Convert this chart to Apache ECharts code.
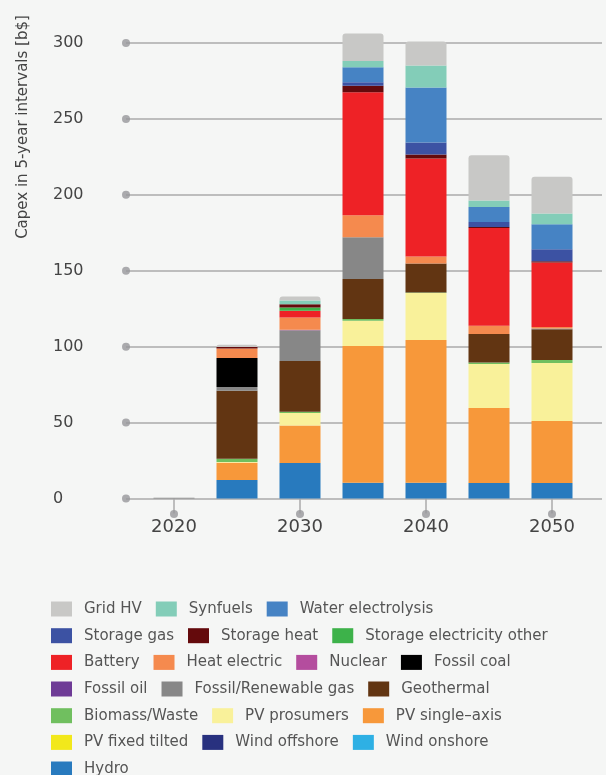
<!DOCTYPE html>
<html>
<head>
<meta charset="utf-8">
<script src="https://cdn.jsdelivr.net/npm/echarts@6/dist/echarts.min.js"></script>
<style>
html,body{margin:0;padding:0;background:#f5f6f5;}
#chart{width:606px;height:775px;}
</style>
</head>
<body>
<div id="chart"></div>
<script>
// Categories and ticks
const years = ['2020', '2025', '2030', '2035', '2040', '2045', '2050'];
const yTicks = [0, 50, 100, 150, 200, 250, 300];
const xTickYears = ['2020', '2030', '2040', '2050'];
const yAxisTitle = 'Capex in 5-year intervals [b$]';

// Series values (b$), stacked bottom -> top
const hydro             = [0,   12.2, 23.4, 10.4, 10.4, 10.2, 10.2];
const windOnshore       = [0,   0,    0,    0,    0,    0,    0];
const windOffshore      = [0,   0,    0,    0,    0,    0,    0];
const pvFixedTilted     = [0,   0,    0,    0,    0,    0,    0];
const pvSingleAxis      = [0,   11.4, 24.6, 90,   94,   49.4, 40.8];
const pvProsumers       = [0,   0.5,  8.3,  16.7, 31,   29,   38.2];
const biomassWaste      = [0,   2,    0.9,  1.1,  0.3,  0.9,  2];
const geothermal        = [0,   44.8, 33.4, 26.4, 19.1, 18.9, 20.2];
const fossilRenewGas    = [0.5, 2.6,  20.2, 27.4, 0,    0,    0.5];
const fossilOil         = [0,   0,    0,    0,    0,    0,    0];
const fossilCoal        = [0,   19.1, 0,    0,    0,    0,    0];
const nuclear           = [0,   0,    0.3,  0,    0,    0,    0];
const heatElectric      = [0,   6.2,  8.1,  14.5, 4.6,  5.3,  1.1];
const battery           = [0,   0,    4.4,  81,   64.6, 64.4, 42.4];
const storageElecOther  = [0,   0,    2.2,  0,    0,    0,    0];
const storageHeat       = [0,   0.9,  2.2,  4.4,  2.6,  0.7,  0.9];
const storageGas        = [0,   0,    0,    2.2,  7.9,  3.3,  7.9];
const waterElectrolysis = [0,   0,    0,    9.9,  36.2, 9.9,  16.5];
const synfuels          = [0,   0,    2.4,  4.2,  14.5, 4.2,  7];
const gridHV            = [0,   1.5,  2.6,  18,   15.8, 29.9, 24.2];

// Legend rows (as laid out in the original)
const legendRows = [
  ['Grid HV', 'Synfuels', 'Water electrolysis'],
  ['Storage gas', 'Storage heat', 'Storage electricity other'],
  ['Battery', 'Heat electric', 'Nuclear', 'Fossil coal'],
  ['Fossil oil', 'Fossil/Renewable gas', 'Geothermal'],
  ['Biomass/Waste', 'PV prosumers', 'PV single\u2013axis'],
  ['PV fixed tilted', 'Wind offshore', 'Wind onshore'],
  ['Hydro']
];

const stackDefs = [
  ['Hydro', hydro, '#287abe'],
  ['Wind onshore', windOnshore, '#2eb0e4'],
  ['Wind offshore', windOffshore, '#28317f'],
  ['PV fixed tilted', pvFixedTilted, '#f2e81b'],
  ['PV single\u2013axis', pvSingleAxis, '#f7983a'],
  ['PV prosumers', pvProsumers, '#f9f19a'],
  ['Biomass/Waste', biomassWaste, '#70bf5f'],
  ['Geothermal', geothermal, '#623512'],
  ['Fossil/Renewable gas', fossilRenewGas, '#878787'],
  ['Fossil oil', fossilOil, '#6e3b96'],
  ['Fossil coal', fossilCoal, '#000000'],
  ['Nuclear', nuclear, '#b44d9e'],
  ['Heat electric', heatElectric, '#f58a4e'],
  ['Battery', battery, '#ee2226'],
  ['Storage electricity other', storageElecOther, '#3db24a'],
  ['Storage heat', storageHeat, '#640a0c'],
  ['Storage gas', storageGas, '#3c52a3'],
  ['Water electrolysis', waterElectrolysis, '#4683c4'],
  ['Synfuels', synfuels, '#83cdb8'],
  ['Grid HV', gridHV, '#c8c8c6']
];

const FONT = 'DejaVu Sans';
const gridColor = '#bdbdbd';
const dotColor = '#97979b';

const barSeries = stackDefs.map(function (d, i) {
  return {
    name: d[0],
    type: 'bar',
    stack: 'capex',
    xAxisIndex: 1,
    yAxisIndex: 1,
    barWidth: 41,
    clip: false,
    data: d[1],
    itemStyle: {
      color: d[2],
      borderRadius: i === stackDefs.length - 1 ? [3, 3, 0, 0] : 0
    },
    emphasis: { disabled: true }
  };
});

const rowCenters = [609, 635.7, 662.4, 689, 715.7, 742.4, 769];
const legends = legendRows.map(function (row, i) {
  return {
    data: row,
    left: 51,
    top: rowCenters[i] - 10,
    padding: 0,
    itemWidth: 21,
    itemHeight: 15,
    itemGap: 14,
    icon: 'rect',
    selectedMode: false,
    textStyle: {
      fontFamily: FONT,
      fontSize: 15,
      color: '#555',
      padding: [0, 0, 0, 7],
      lineHeight: 20
    }
  };
});

const option = {
  backgroundColor: '#f5f6f5',
  animation: false,
  grid: [
    { left: 126, right: 4, top: 43, bottom: 276.5 },
    { left: 142.5, right: 22.5, top: 43, bottom: 276.5 }
  ],
  xAxis: [
    { gridIndex: 0, type: 'value', min: 0, max: 1, show: false },
    {
      gridIndex: 1,
      type: 'category',
      data: years,
      axisLine: { show: false },
      axisTick: {
        show: true, alignWithLabel: true, interval: 1, length: 15,
        lineStyle: { color: '#aaaaaa', width: 1.5 }
      },
      axisLabel: {
        interval: 1, margin: 20,
        fontFamily: FONT, fontSize: 18, color: '#444'
      },
      splitLine: { show: false }
    }
  ],
  yAxis: [
    {
      gridIndex: 0, type: 'value', min: 0, max: 300, interval: 50,
      axisLine: { show: false },
      axisTick: { show: false },
      axisLabel: {
        align: 'left', margin: 73,
        fontFamily: FONT, fontSize: 16, color: '#444'
      },
      splitLine: { show: true, lineStyle: { color: gridColor, width: 2 } }
    },
    {
      gridIndex: 1, type: 'value', min: 0, max: 300, interval: 50, show: false
    }
  ],
  legend: legends,
  graphic: [{
    type: 'text',
    x: 23,
    y: 127,
    rotation: Math.PI / 2,
    style: {
      text: yAxisTitle,
      fill: '#444',
      fontFamily: FONT,
      fontSize: 15,
      align: 'center',
      verticalAlign: 'middle',
      textAlign: 'center',
      textVerticalAlign: 'middle'
    }
  }],
  series: barSeries.concat([
    {
      type: 'scatter',
      xAxisIndex: 0, yAxisIndex: 0,
      data: yTicks.map(function (v) { return [0, v]; }),
      symbolSize: 8,
      clip: false,
      silent: true,
      itemStyle: { color: dotColor },
      z: 5
    },
    {
      type: 'scatter',
      xAxisIndex: 1, yAxisIndex: 1,
      data: xTickYears.map(function (y) { return [y, 0]; }),
      symbolSize: 8,
      symbolOffset: [0, 15.5],
      clip: false,
      silent: true,
      itemStyle: { color: dotColor },
      z: 5
    }
  ])
};

const chart = echarts.init(document.getElementById('chart'), null, { renderer: 'canvas' });
chart.setOption(option);
</script>
</body>
</html>
